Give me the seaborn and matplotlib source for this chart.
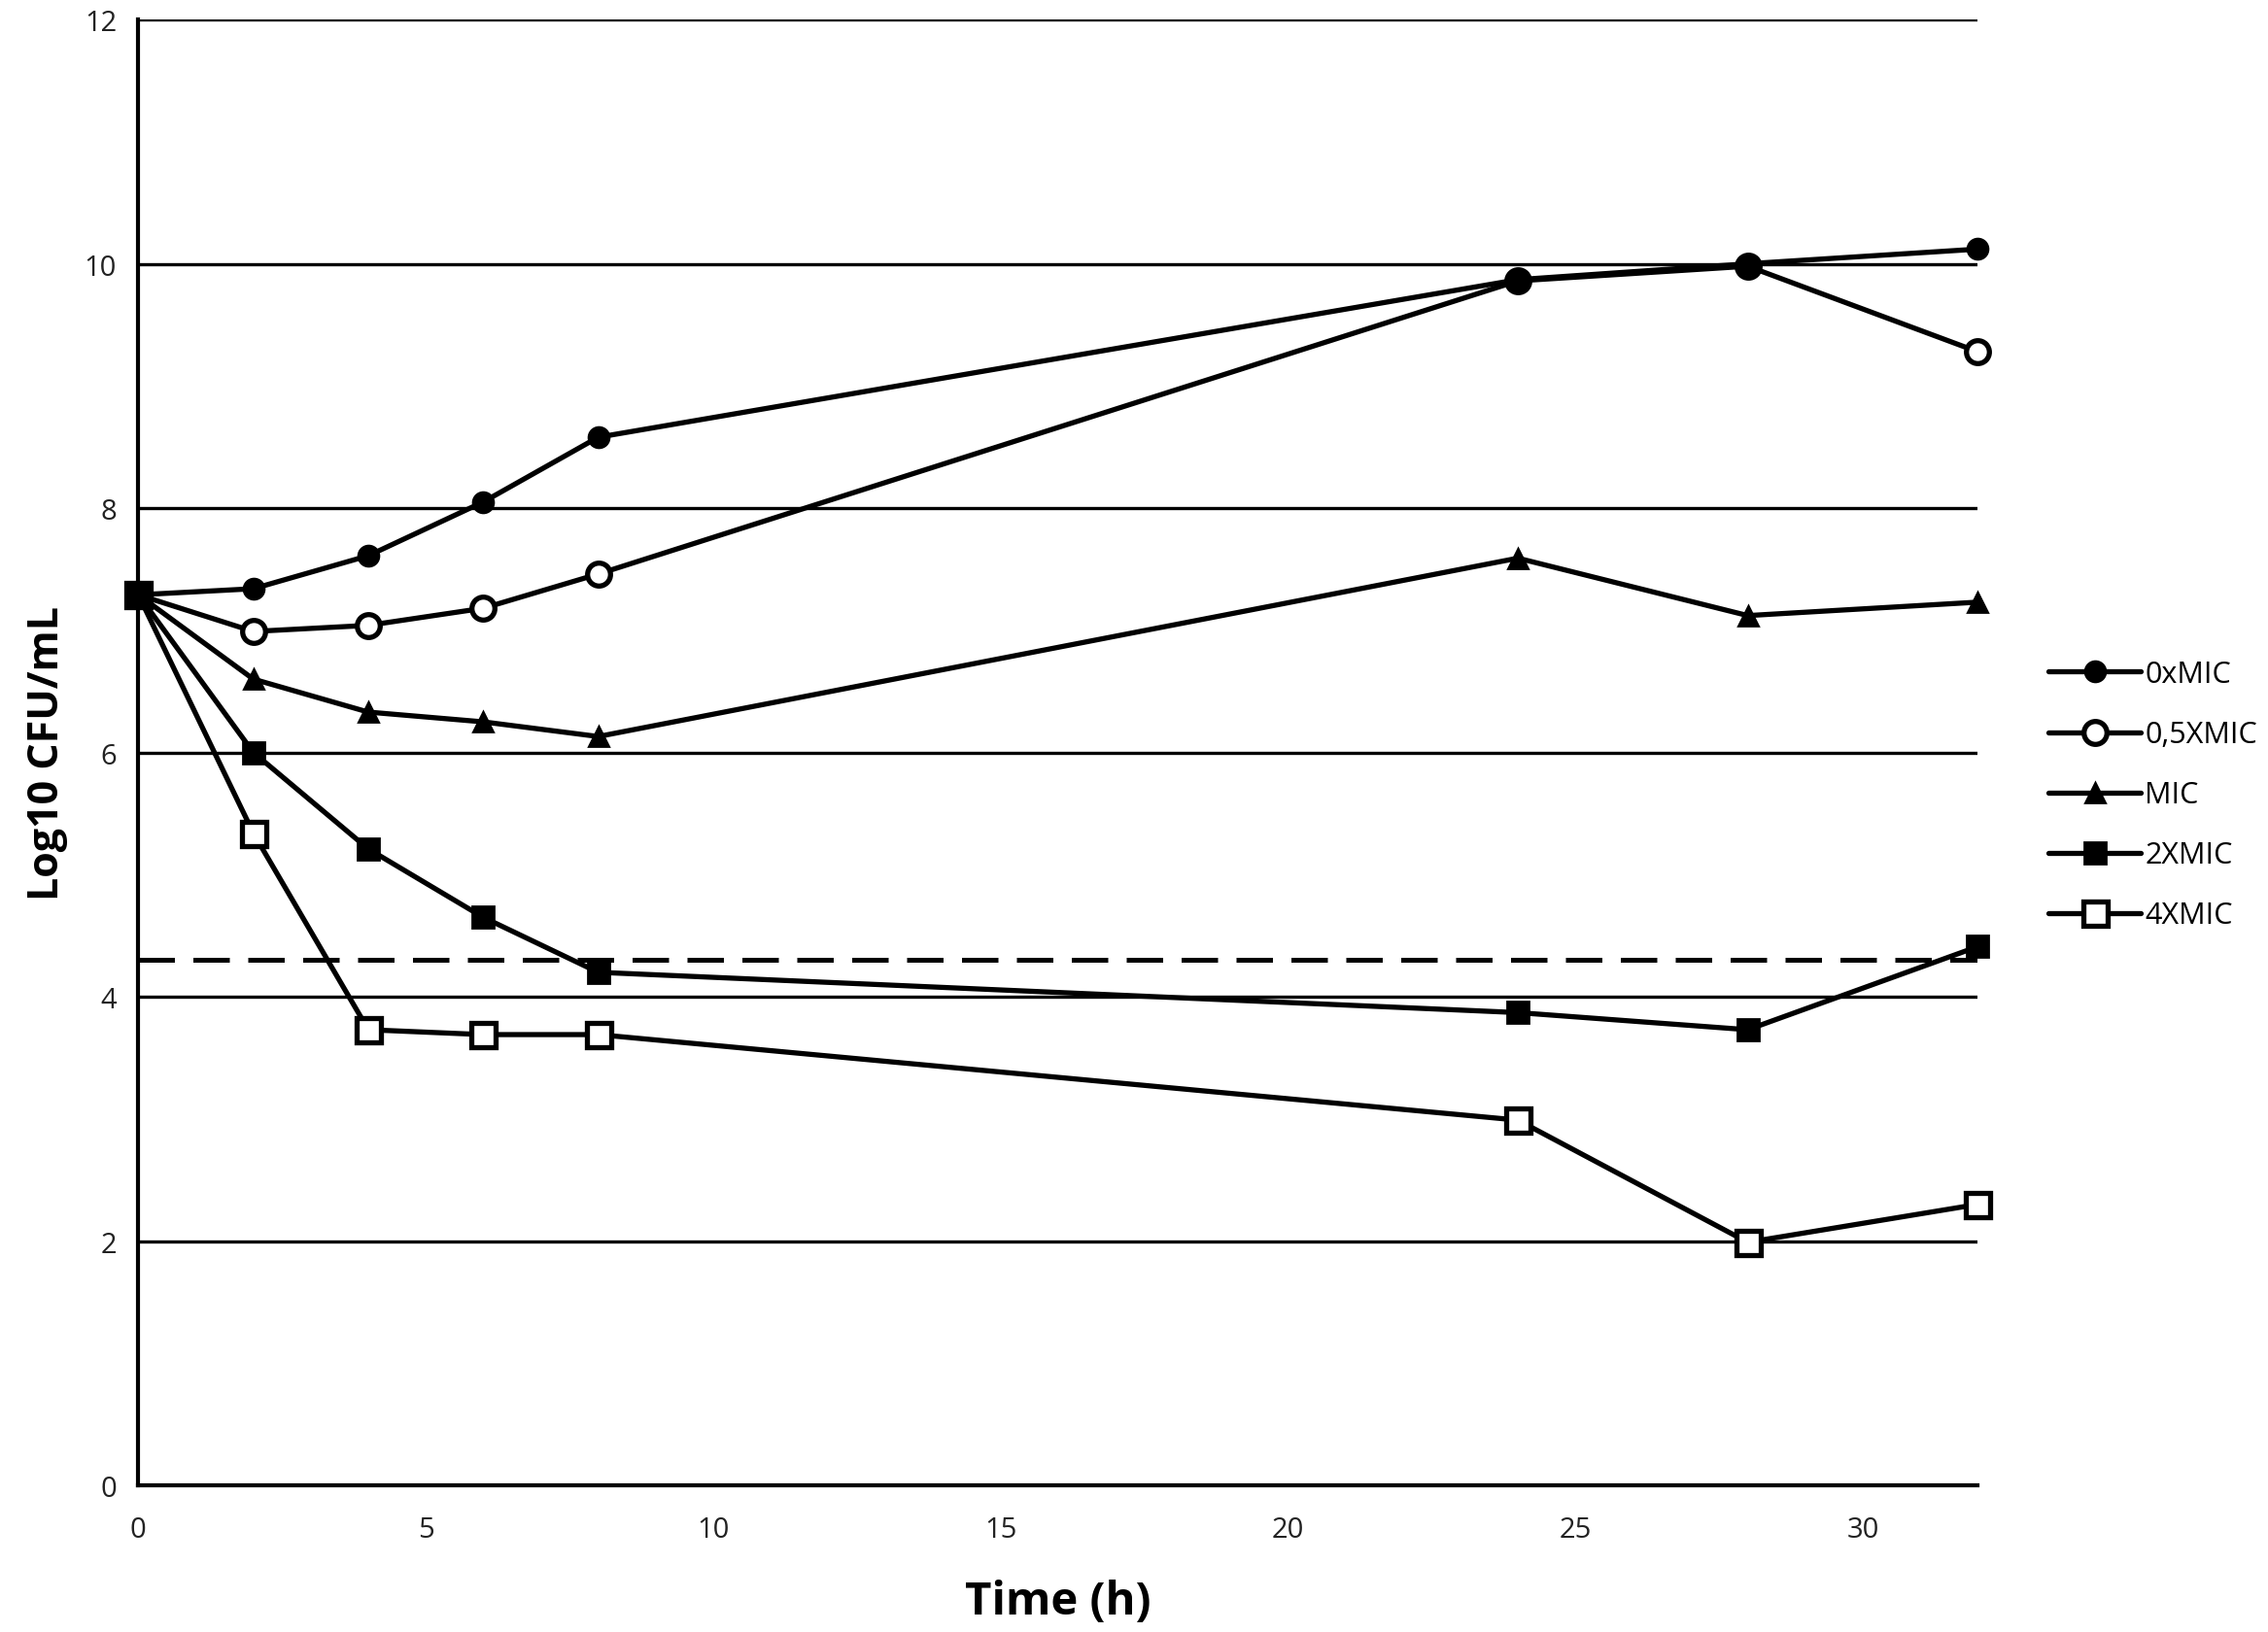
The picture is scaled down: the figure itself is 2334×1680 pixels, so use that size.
import matplotlib
matplotlib.use("Agg")
import matplotlib.pyplot as plt
import seaborn as sns
import pandas as pd

time_h = [0, 2, 4, 6, 8, 24, 28, 32]
mic0 = [7.29, 7.34, 7.61, 8.05, 8.58, 9.87, 10.00, 10.12]
mic05 = [7.29, 6.99, 7.04, 7.18, 7.46, 9.86, 9.98, 9.28]
mic1 = [7.29, 6.60, 6.33, 6.25, 6.13, 7.59, 7.12, 7.23]
mic2 = [7.29, 6.00, 5.21, 4.65, 4.20, 3.87, 3.73, 4.41]
mic4 = [7.29, 5.34, 3.73, 3.69, 3.69, 2.99, 1.99, 2.30]
labels = ["0xMIC", "0,5XMIC", "MIC", "2XMIC", "4XMIC"]
detection_limit = 4.30

sns.set_theme(style="white")
plt.rcParams['font.family'] = ['Open Sans', 'DejaVu Sans']
plt.rcParams['text.color'] = 'black'
plt.rcParams['axes.labelcolor'] = 'black'

fig = plt.figure(figsize=(23.34, 16.81), dpi=100)
ax = fig.add_axes([0.061, 0.0898, 0.811, 0.8977])

styles = [
    dict(marker="o", markersize=15, markerfacecolor="black", markeredgewidth=2),
    dict(marker="o", markersize=17, markerfacecolor="white", markeredgewidth=3.8),
    dict(marker="^", markersize=14, markerfacecolor="black", markeredgewidth=2),
    dict(marker="s", markersize=16, markerfacecolor="black", markeredgewidth=2),
    dict(marker="s", markersize=18, markerfacecolor="white", markeredgewidth=3.8),
]
zorders = [5, 3, 5, 6, 4]
series = [mic0, mic05, mic1, mic2, mic4]

for yv in [2, 4, 6, 8, 10, 12]:
    ax.axhline(yv, color="black", lw=2.4, zorder=1)
ax.axhline(detection_limit, color="black", lw=3.6, ls=(0, (7.5, 3.8)), zorder=1)

for vals, lab, st, z in zip(series, labels, styles, zorders):
    df = pd.DataFrame({"t": time_h, "v": vals})
    sns.lineplot(data=df, x="t", y="v", ax=ax, color="black", lw=3.8,
                 markeredgecolor="black", label=lab, clip_on=False, zorder=z, **st)

ax.set_xlim(0, 32)
ax.set_ylim(0, 12)
ax.set_xticks([0, 5, 10, 15, 20, 25, 30])
ax.set_yticks([0, 2, 4, 6, 8, 10, 12])
for s in ["top", "right"]:
    ax.spines[s].set_visible(False)
for s in ["left", "bottom"]:
    ax.spines[s].set_color("black")
    ax.spines[s].set_linewidth(3)
ax.tick_params(axis="both", direction="out", length=8, width=2.5, colors="black",
               labelsize=21, labelcolor="#222222")
ax.tick_params(axis="y", pad=8)
ax.tick_params(axis="x", pad=14)

ax.set_xlabel("Time (h)", fontsize=34, fontweight="bold", labelpad=26)
ax.set_ylabel("Log10 CFU/mL", fontsize=31, fontweight="bold", labelpad=12)

h, l = ax.get_legend_handles_labels()
leg = ax.legend(h, l, loc="center left", bbox_to_anchor=(1.024, 0.471), frameon=False,
                fontsize=22, handlelength=3.1, labelspacing=1.05, handletextpad=0.15)

fig.savefig("out.png", dpi=100)
